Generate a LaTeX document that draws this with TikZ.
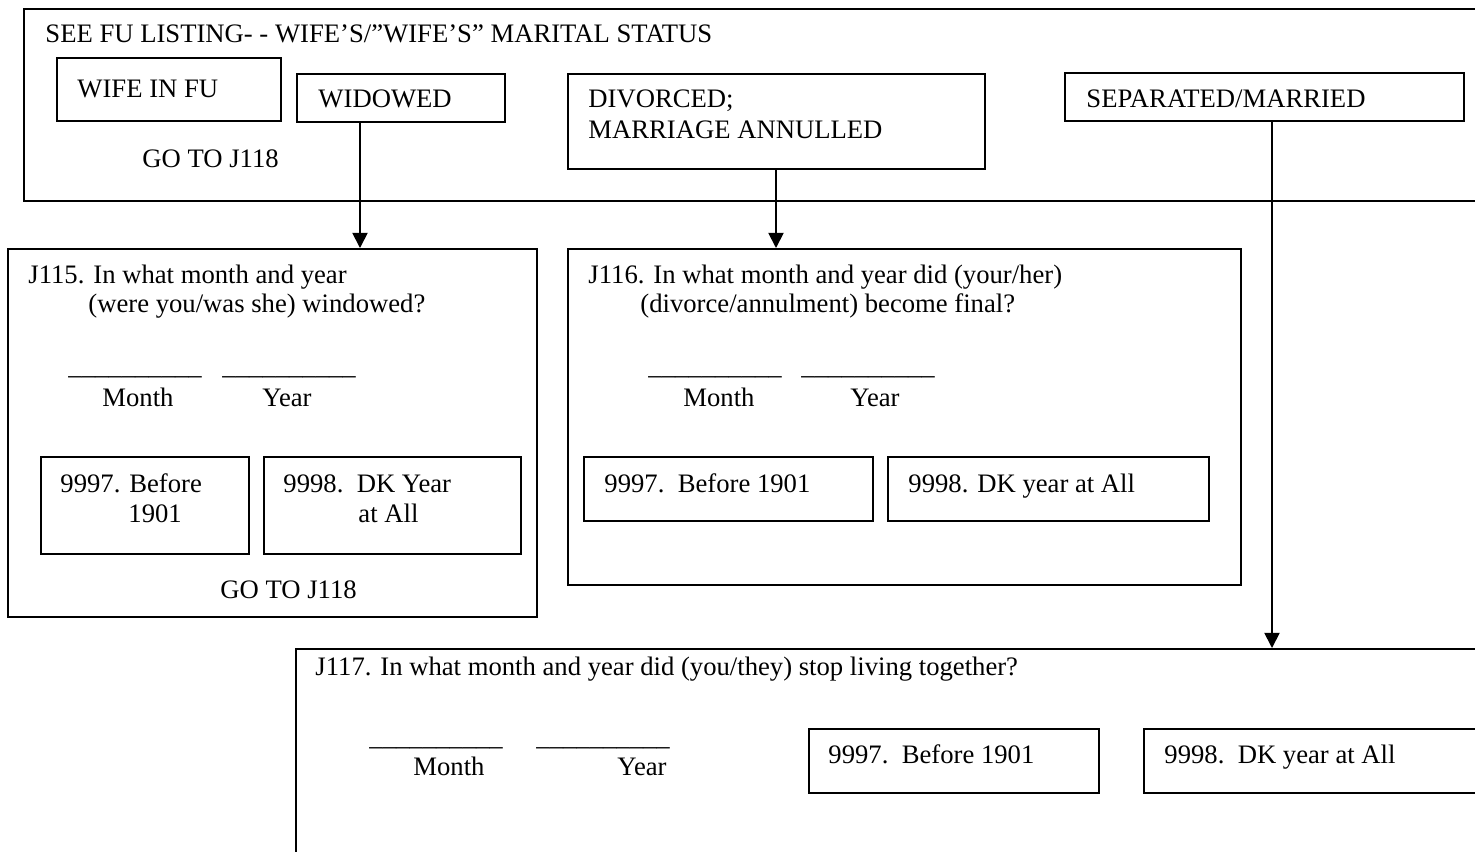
\documentclass[tikz,border=0pt]{standalone}
\usepackage{fontspec}
\setmainfont{Liberation Serif}
\usepackage{tikz}
\usetikzlibrary{arrows.meta}
\newcommand{\pxu}{0.45pt}
\newcommand{\blank}{\_\_\_\_\_\_\_\_\_\_}

\begin{document}
\begin{tikzpicture}[x=0.45pt, y=-0.45pt,
    box/.style args={#1/#2}{draw, line width=0.8pt, anchor=north west, inner sep=0pt,
      minimum width=#1*\pxu, minimum height=#2*\pxu},
    txt/.style={anchor=base west, inner sep=0pt, font=\fontsize{12}{14}\selectfont},
    arr/.style={line width=0.8pt, -{Triangle[length=6.8pt, width=6.8pt]}}]
    \useasboundingbox (0,0) rectangle (1475,851);
    \clip (0,0) rectangle (1475,851);

    % --- top panel: marital status of wife, four answer boxes ---
    \node[box=1480/192] (status) at (23,8) {};
    \node[txt] (statlab) at (45,42) {SEE FU LISTING- - WIFE’S/”WIFE’S” MARITAL STATUS};
    \node[box=224/63] (infu) at (56,57) {};
    \node[txt] (infulab) at (77,97) {WIFE IN FU};
    \node[txt] (infugo) at (142,167) {GO TO J118};
    \node[box=208/48] (widowed) at (296,73) {};
    \node[txt] (widlab) at (318,107) {WIDOWED};
    \node[box=417/95] (divorced) at (567,73) {};
    \node[txt] (divlab1) at (588,107) {DIVORCED;};
    \node[txt] (divlab2) at (588,138) {MARRIAGE ANNULLED};
    \node[box=399/48] (sepmar) at (1064,72) {};
    \node[txt] (seplab) at (1086,107) {SEPARATED/MARRIED};

    % --- J115: widowed ---
    \node[box=529/368] (j115) at (7,248) {};
    \node[txt] (q115a) at (28,283) {J115. In what month and year};
    \node[txt] (q115b) at (88,312) {(were you/was she) windowed?};
    \node[txt] (b115m) at (68,374) {\blank};
    \node[txt] (b115y) at (222,374) {\blank};
    \node[txt] (m115) at (102,406) {Month};
    \node[txt] (y115) at (262,406) {Year};
    \node[box=208/97] (c115a) at (40,456) {};
    \node[txt] (c115a1) at (60,492) {9997. Before};
    \node[txt] (c115a2) at (128,522) {1901};
    \node[box=257/97] (c115b) at (263,456) {};
    \node[txt] (c115b1) at (283,492) {9998.\ \ DK Year};
    \node[txt] (c115b2) at (358,522) {at All};
    \node[txt] (go115) at (220,598) {GO TO J118};

    % --- J116: divorced ---
    \node[box=673/336] (j116) at (567,248) {};
    \node[txt] (q116a) at (588,283) {J116. In what month and year did (your/her)};
    \node[txt] (q116b) at (640,312) {(divorce/annulment) become final?};
    \node[txt] (b116m) at (648,374) {\blank};
    \node[txt] (b116y) at (801,374) {\blank};
    \node[txt] (m116) at (683,406) {Month};
    \node[txt] (y116) at (850,406) {Year};
    \node[box=289/64] (c116a) at (583,456) {};
    \node[txt] (c116a1) at (604,492) {9997.\ \ Before 1901};
    \node[box=321/64] (c116b) at (887,456) {};
    \node[txt] (c116b1) at (908,492) {9998. DK year at All};

    % --- J117: separated ---
    \node[box=1205/240] (j117) at (295,648) {};
    \node[txt] (q117) at (315,675) {J117. In what month and year did (you/they) stop living together?};
    \node[txt] (b117m) at (369,745) {\blank};
    \node[txt] (b117y) at (536,745) {\blank};
    \node[txt] (m117) at (413,775) {Month};
    \node[txt] (y117) at (617,775) {Year};
    \node[box=290/64] (c117a) at (808,728) {};
    \node[txt] (c117a1) at (828,763) {9997.\ \ Before 1901};
    \node[box=357/64] (c117b) at (1143,728) {};
    \node[txt] (c117b1) at (1164,763) {9998.\ \ DK year at All};

    % --- routing arrows ---
    \path ([xshift=64*\pxu]widowed.south west) coordinate (widout);
    \path ([xshift=209*\pxu]divorced.south west) coordinate (divout);
    \path ([xshift=208*\pxu]sepmar.south west) coordinate (sepout);
    \draw[arr] (widout) -- (widout |- j115.north);
    \draw[arr] (divout) -- (divout |- j116.north);
    \draw[arr] (sepout) -- (sepout |- j117.north);
  \end{tikzpicture}
\end{document}
